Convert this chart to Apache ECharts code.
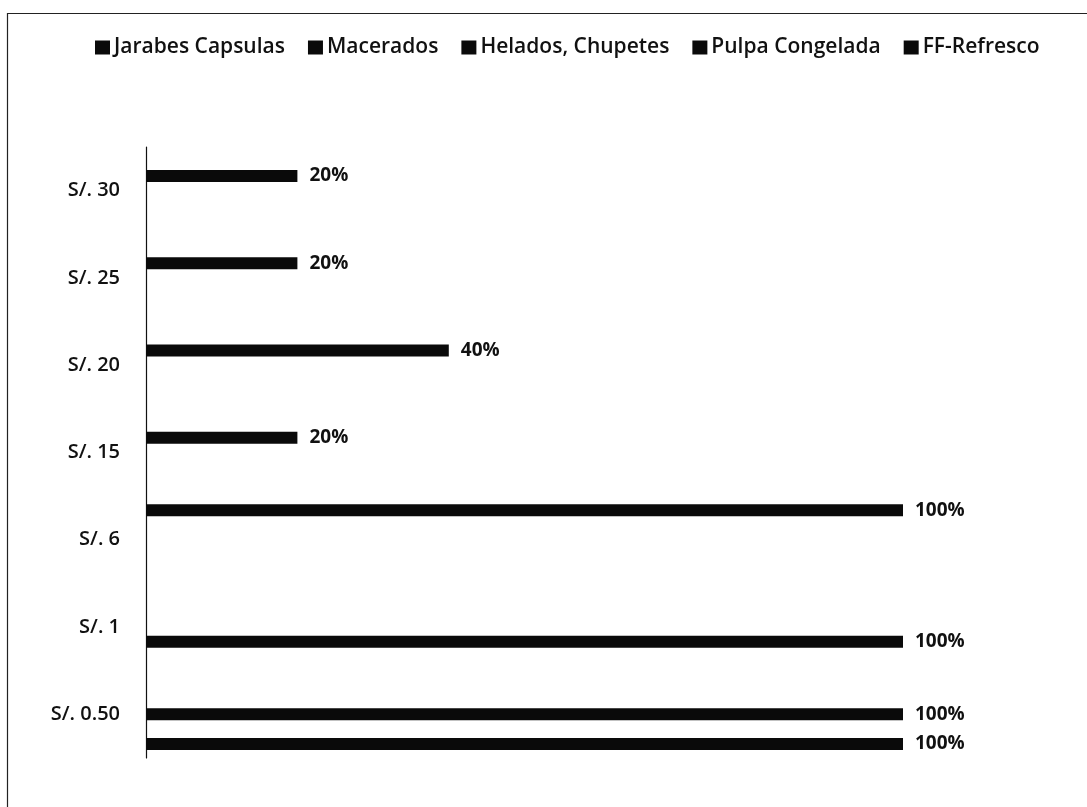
<!DOCTYPE html>
<html>
<head>
<meta charset="utf-8">
<script src="https://cdn.jsdelivr.net/npm/echarts@6/dist/echarts.min.js"></script>
<style>
  html, body { margin: 0; padding: 0; background: #fff; }
  #chart { width: 1087px; height: 807px; }
</style>
</head>
<body>
<div id="chart"></div>
<script>
// categories bottom to top
const categories = ['S/. 0.50', 'S/. 1', 'S/. 6', 'S/. 15', 'S/. 20', 'S/. 25', 'S/. 30']
const legendNames = ['Jarabes Capsulas', 'Macerados', 'Helados, Chupetes', 'Pulpa Congelada', 'FF-Refresco']

const jarabesCapsulas = [1, null, null, null, null, null, null]
const macerados = [null, 1, null, null, null, null, null]
const heladosChupetes = [1, null, null, null, null, null, null]
const pulpaCongelada = [null, null, null, 0.2, 0.4, 0.2, 0.2]
const ffRefresco = [null, null, 1, null, null, null, null]

const font = 'Open Sans'

// excel puts the first series at the bottom of each group, echarts at the top,
// so the list is reversed here and the legend keeps the original order
const seriesList = [
  ['FF-Refresco', ffRefresco],
  ['Pulpa Congelada', pulpaCongelada],
  ['Helados, Chupetes', heladosChupetes],
  ['Macerados', macerados],
  ['Jarabes Capsulas', jarabesCapsulas],
]

const chart = echarts.init(document.getElementById('chart'))
chart.setOption({
  animation: false,
  textStyle: { fontFamily: font },
  graphic: [{
    type: 'rect',
    shape: { x: 7.5, y: 13.5, width: 1200, height: 900 },
    style: { fill: 'none', stroke: '#222', lineWidth: 1.2 },
    silent: true,
  }],
  legend: {
    data: legendNames,
    left: 90,
    top: 32,
    itemWidth: 15,
    itemHeight: 14,
    itemGap: 23,
    icon: 'rect',
    textStyle: { fontFamily: font, fontSize: 21, fontWeight: 600, color: '#111', padding: [0, 0, 0, -1] },
  },
  grid: { left: 146, right: 184, top: 147, bottom: 49 },
  xAxis: {
    type: 'value',
    min: 0,
    max: 1,
    show: false,
  },
  yAxis: {
    type: 'category',
    data: categories,
    axisLine: { show: true, lineStyle: { color: '#111', width: 1.2 } },
    axisTick: { show: false },
    axisLabel: { fontFamily: font, fontSize: 20, fontWeight: 600, color: '#111', margin: 26 },
    splitLine: { show: false },
  },
  series: seriesList.map(([name, values]) => ({
    name,
    type: 'bar',
    data: values,
    barWidth: 12,
    barGap: '23%',
    itemStyle: { color: '#0a0a0a' },
    label: {
      show: true,
      position: 'right',
      distance: 12,
      fontFamily: font,
      fontWeight: 'bold',
      fontSize: 19,
      color: '#111',
      formatter: (p) => Math.round(p.value * 100) + '%',
    },
  })),
})
</script>
</body>
</html>
